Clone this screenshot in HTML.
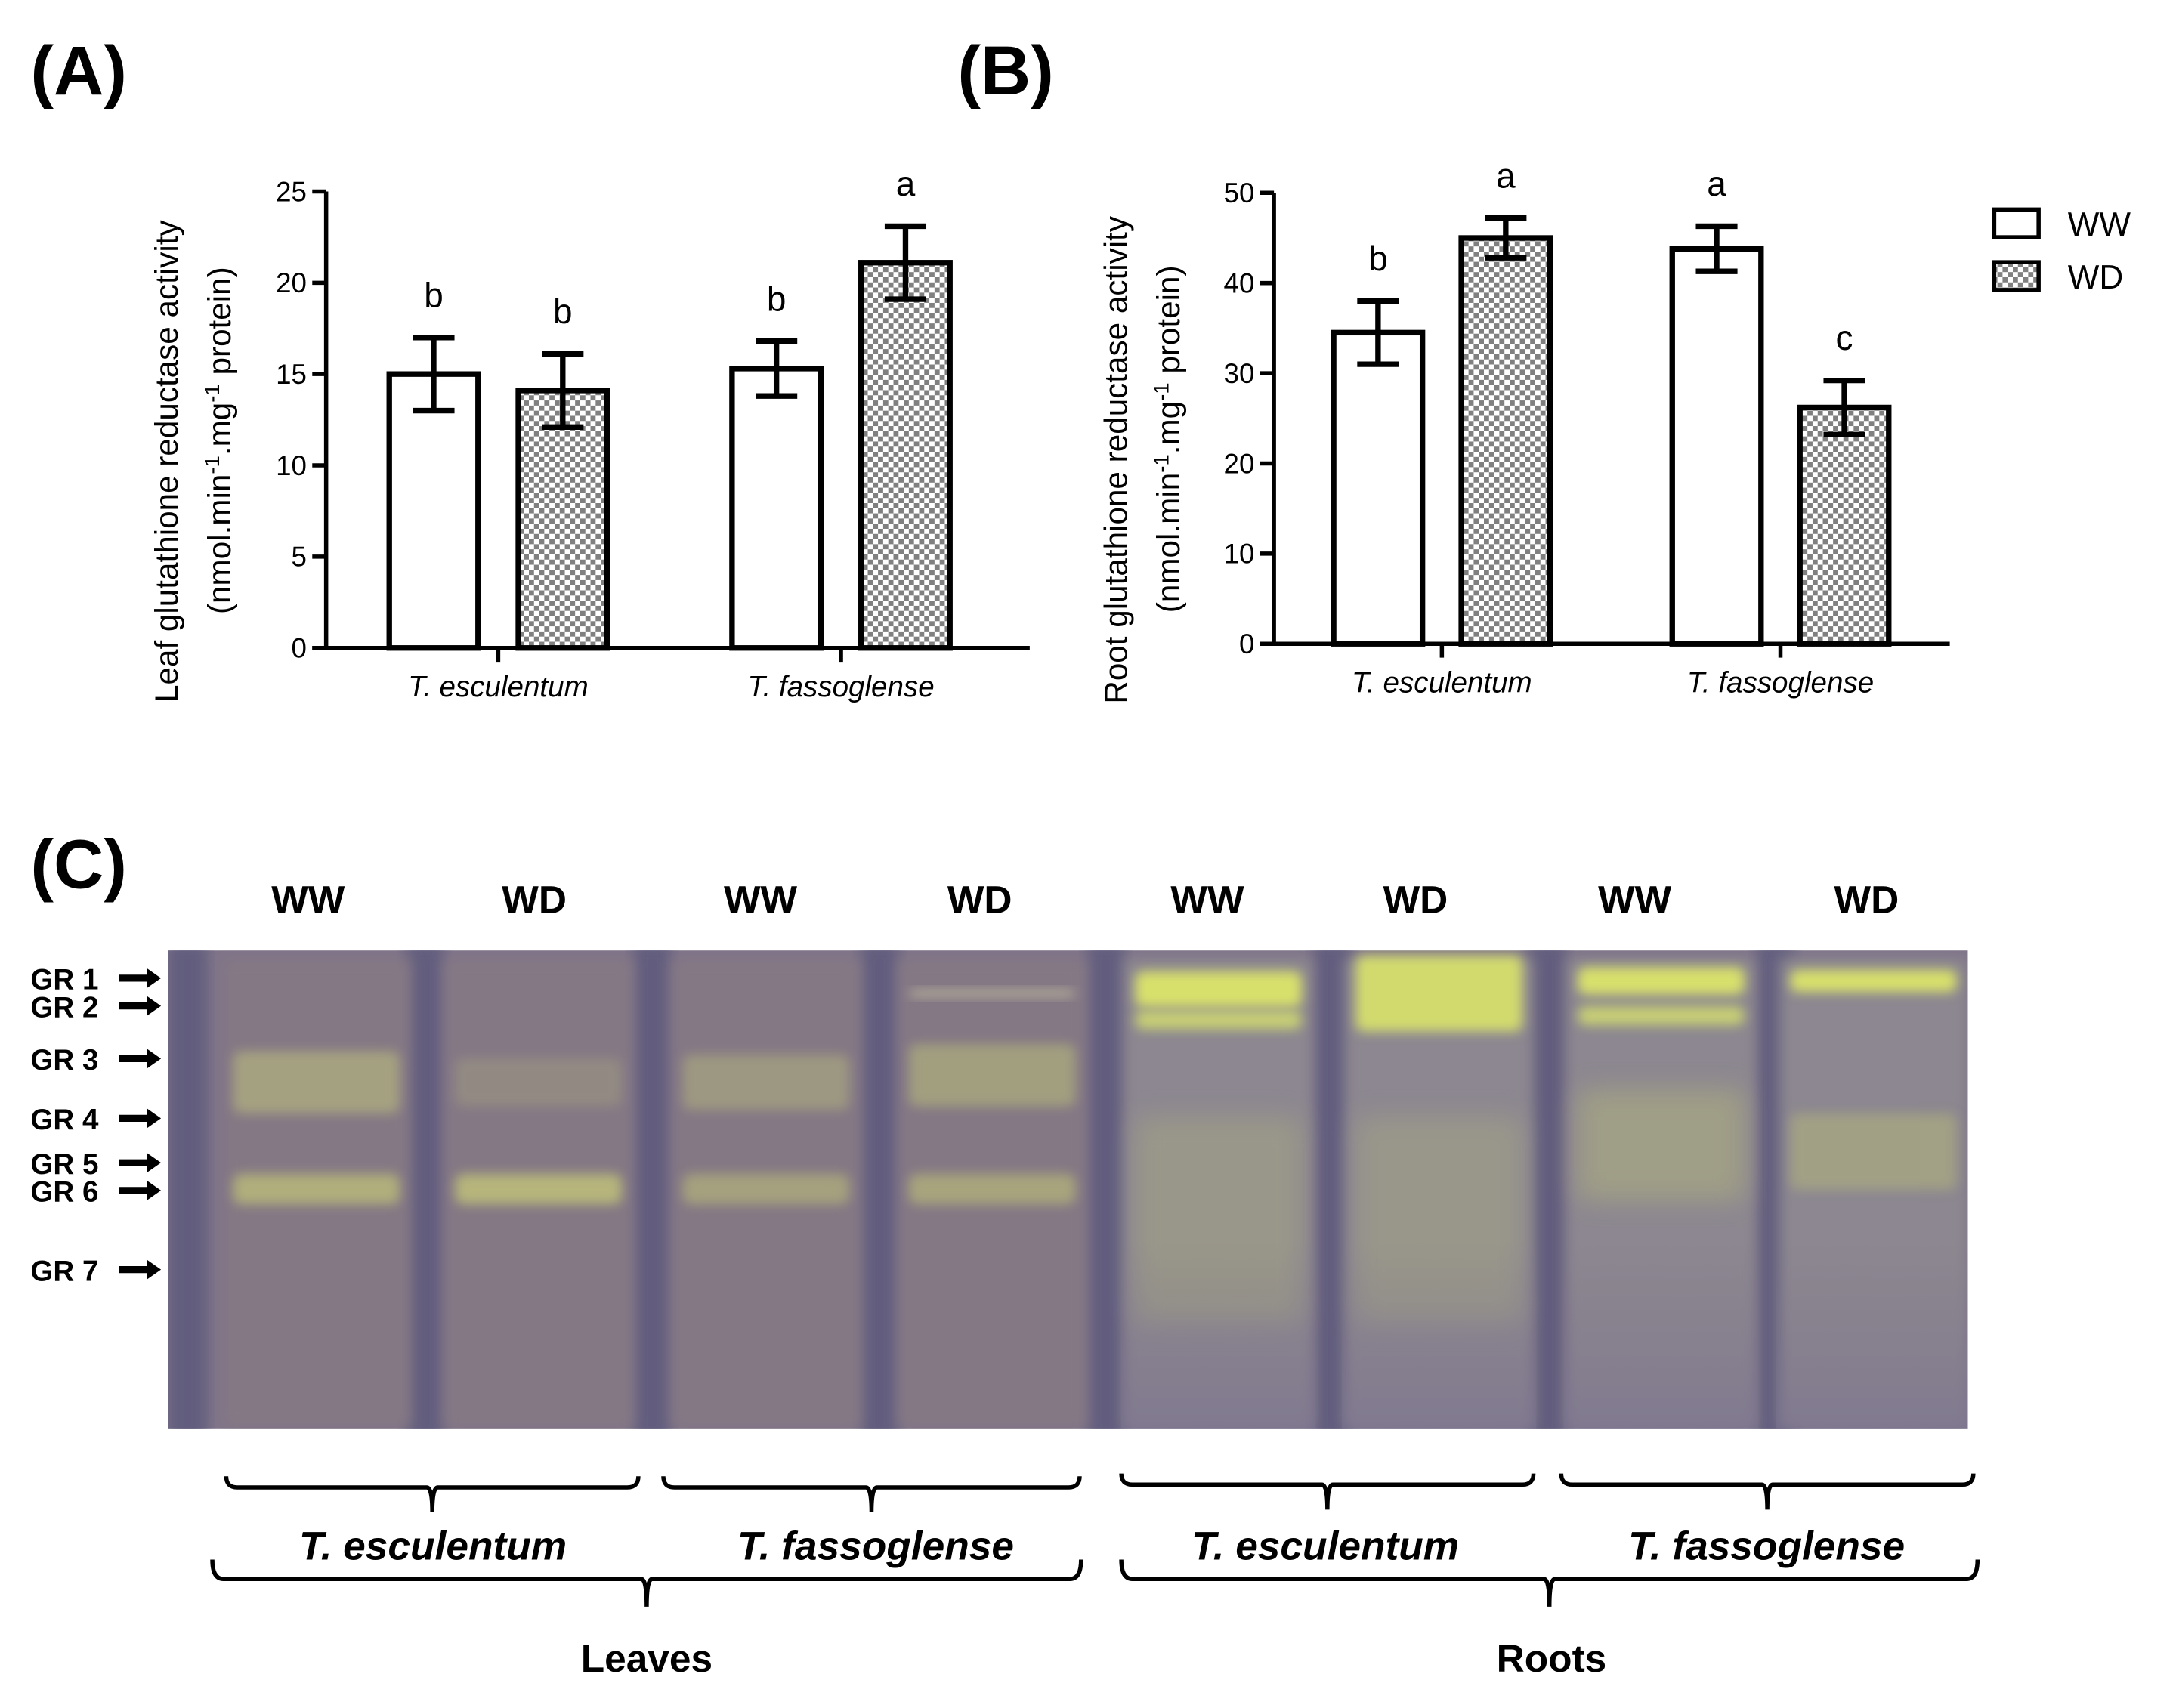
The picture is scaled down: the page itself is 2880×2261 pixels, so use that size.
<!DOCTYPE html>
<html><head><meta charset="utf-8"><style>
html,body{margin:0;padding:0;background:#fff;}
svg{display:block;}
text{font-family:"Liberation Sans",sans-serif;}
.b{font-weight:bold;}
</style></head><body>
<svg id="fig" width="2880" height="2261" viewBox="0 0 1568 1231" xmlns="http://www.w3.org/2000/svg">
<defs>
<pattern id="chk" width="7.4" height="7.4" patternUnits="userSpaceOnUse">
<rect width="7.4" height="7.4" fill="#fff"/>
<rect width="3.7" height="3.7" fill="#808080"/>
<rect x="3.7" y="3.7" width="3.7" height="3.7" fill="#808080"/>
</pattern>
<filter id="blur4" x="-20%" y="-20%" width="140%" height="140%"><feGaussianBlur stdDeviation="5"/></filter>
<filter id="blur8" x="-30%" y="-50%" width="160%" height="200%"><feGaussianBlur stdDeviation="9"/></filter>
<filter id="blur2" x="-20%" y="-100%" width="140%" height="300%"><feGaussianBlur stdDeviation="4"/></filter>
<linearGradient id="fadeRoot" x1="0" y1="0" x2="0" y2="1">
<stop offset="0" stop-color="#7e7389" stop-opacity="0"/>
<stop offset="0.6" stop-color="#7e7389" stop-opacity="0"/>
<stop offset="1" stop-color="#7a7290" stop-opacity="0.6"/>
</linearGradient>
<clipPath id="gelclip"><rect x="121" y="685" width="1297" height="345"/></clipPath>
</defs>
<text x="22" y="68" font-size="50" class="b">(A)</text>
<text x="690" y="68" font-size="50" class="b">(B)</text>
<text x="22" y="640" font-size="50" class="b">(C)</text>
<g id="chartA"></g>
<g id="chartB"></g>
<g>
<rect x="1437" y="151" width="32" height="20" fill="#fff" stroke="#000" stroke-width="3"/>
<text x="1490" y="170" font-size="24">WW</text>
<rect x="1437" y="189" width="32" height="20" fill="url(#chk)" stroke="#000" stroke-width="3"/>
<text x="1490" y="208" font-size="24">WD</text>
</g>
<g id="gel"></g>
<g id="gelLabels"></g>
</svg>
<script>
const NS="http://www.w3.org/2000/svg";
function mk(tag,attrs,parent,txt){const e=document.createElementNS(NS,tag);for(const k in attrs)e.setAttribute(k,attrs[k]);if(txt!==undefined)e.textContent=txt;parent.appendChild(e);return e;}

// ---- Chart data ----
const categories=["T. esculentum","T. fassoglense"];
const seriesNames=["WW","WD"];
const leafMeans=[[15.0,14.1],[15.3,21.1]];
const leafErr=[[2.0,2.0],[1.5,2.0]];
const leafLetters=[["b","b"],["b","a"]];
const leafTicks=[0,5,10,15,20,25];
const rootMeans=[[34.5,45.0],[43.8,26.2]];
const rootErr=[[3.5,2.2],[2.5,3.0]];
const rootLetters=[["b","a"],["a","c"]];
const rootTicks=[0,10,20,30,40,50];

function drawChart(g,cfg){
  const {x0,x1,y0,yTop,ymax,means,errs,letters,ticks,groupC,title1,barW,gap}=cfg;
  const y=v=>y0-(v/ymax)*(y0-yTop);
  const ax=mk('line',{x1:x0,y1:yTop,x2:x0,y2:y0,stroke:'#000','stroke-width':3},g);
  
  
  const xa=mk('line',{x1:x0-10,y1:y0,x2:x1,y2:y0,stroke:'#000','stroke-width':3},g);
  
  
  ticks.forEach(t=>{
    const tl=mk('line',{x1:x0-10,y1:y(t),x2:x0,y2:y(t),stroke:'#000','stroke-width':3},g);
    
    
    const tt=mk('text',{x:x0-14,y:y(t)+7,'font-size':20,'text-anchor':'end'},g,String(t));
    
    
  });
  categories.forEach((c,i)=>{
    const cx=groupC[i];
    const gt=mk('line',{x1:cx,y1:y0,x2:cx,y2:y0+10,stroke:'#000','stroke-width':3},g);
    
    
    const lt=mk('text',{x:cx,y:y0+35,'font-size':21,'font-style':'italic','text-anchor':'middle'},g,c);
    
    
    seriesNames.forEach((s,j)=>{
      const bx=j===0?cx-gap/2-barW:cx+gap/2;
      const v=means[i][j],e=errs[i][j];
      const r=mk('rect',{x:bx,y:y(v),width:barW,height:y0-y(v),fill:j===0?'#fff':'url(#chk)',stroke:'#000','stroke-width':4},g);
      
      
      const mx=bx+barW/2;
      const eb=mk('path',{d:`M${mx-15},${y(v+e)}H${mx+15}M${mx},${y(v+e)}V${y(v-e)}M${mx-15},${y(v-e)}H${mx+15}`,stroke:'#000','stroke-width':4,fill:'none'},g);
      
      
      const lt2=mk('text',{x:mx,y:y(v+e)-22,'font-size':25,'text-anchor':'middle'},g,letters[i][j]);
      
      
    });
  });
  const tx=cfg.titleX, ty=(yTop+y0)/2+30;
  const t1=mk('text',{x:0,y:0,'font-size':23,'text-anchor':'middle',transform:`translate(${tx},${ty}) rotate(-90)`},g,title1);
  
  
  const t2=mk('text',{x:0,y:0,'font-size':23,'text-anchor':'middle',transform:`translate(${tx+38},${ty-15}) rotate(-90)`},g);
  
  
  t2.innerHTML='(nmol.min<tspan dy="-8" font-size="15">-1</tspan><tspan dy="8">.mg</tspan><tspan dy="-8" font-size="15">-1</tspan><tspan dy="8"> protein)</tspan>';
}
drawChart(document.getElementById('chartA'),{x0:235,x1:742,y0:467,yTop:138,ymax:25,means:leafMeans,errs:leafErr,letters:leafLetters,ticks:leafTicks,groupC:[359,606],title1:'Leaf glutathione reductase activity',barW:64,gap:29,titleX:128});
drawChart(document.getElementById('chartB'),{x0:918,x1:1405,y0:464,yTop:139,ymax:50,means:rootMeans,errs:rootErr,letters:rootLetters,ticks:rootTicks,groupC:[1039,1283],title1:'Root glutathione reductase activity',barW:64,gap:28,titleX:812});

// ---- Gel ----
const gel=document.getElementById('gel');
const gc=mk('g',{'clip-path':'url(#gelclip)'},gel);
mk('rect',{x:121,y:685,width:1297,height:345,fill:'#7e7389'},gc);
const laneC=[228,388,552,715,878,1037,1197,1350];
const laneCond=["WW","WD","WW","WD","WW","WD","WW","WD"];
const sepX=[135,306,470,634,797,960,1115,1279];
sepX.forEach(x=>{const s=mk('rect',{x:x-14,y:680,width:28,height:360,fill:'#625d7e',filter:'url(#blur4)'},gc);});
laneC.forEach((c,i)=>{
  const root=i>=4;
  const l=mk('rect',{x:c-68,y:690,width:136,height:340,fill:root?'#8c8790':'#847884',filter:'url(#blur4)'},gc);
  
  
});
const bands=[[0,780,45,'#adac80',0.8],[1,780,35,'#9f9a82',0.55],[2,780,40,'#a8a680',0.7],[3,775,45,'#acac7e',0.75],
[0,857,22,'#b8b87a',0.85],[1,857,22,'#bcbc7a',0.9],[2,857,22,'#b0ae7c',0.75],[3,857,22,'#b4b37a',0.75],
[3,716,4,'#e0e0b0',0.7],
[4,713,26,'#d8e06c',1],[4,735,14,'#cdd672',0.9],[5,716,55,'#d2da6e',1],[6,707,20,'#d8e06c',1],[6,732,14,'#cdd672',0.9],[7,707,16,'#d8e06c',1],
[4,880,150,'#a3a385',0.6],[5,880,150,'#a2a287',0.6],[6,825,80,'#a8a882',0.7],[7,830,55,'#abab80',0.7]];
bands.forEach(b=>{
  const c=laneC[b[0]];
  const r=mk('rect',{x:c-60,y:b[1]-b[2]/2,width:120,height:b[2],fill:b[3],opacity:b[4],rx:6,filter:b[2]>60?'url(#blur8)':'url(#blur2)'},gc);
  
  
});
laneC.slice(4).forEach(c=>{mk('rect',{x:c-70,y:690,width:140,height:340,fill:'url(#fadeRoot)'},gc);});

// ---- Gel labels ----
const gl=document.getElementById('gelLabels');
laneC.forEach((c,i)=>{
  const t=mk('text',{x:[222,385,548,706,870,1020,1178,1345][i],y:658,'font-size':28,'text-anchor':'middle',class:'b'},gl,laneCond[i]);
  
  
});
const grNames=["GR 1","GR 2","GR 3","GR 4","GR 5","GR 6","GR 7"];
const grY=[705,725,763,806,838,858,915];
grNames.forEach((n,i)=>{
  const t=mk('text',{x:22,y:grY[i]+8,'font-size':21,class:'b'},gl,n);
  
  
  const a=mk('path',{d:`M86,${grY[i]-2.5}H106V${grY[i]-7}L116,${grY[i]}L106,${grY[i]+7}V${grY[i]+2.5}H86Z`,fill:'#000'},gl);
  
  
});
function brace(x1,x2,y,drop,depth,name){
  const c=(x1+x2)/2;
  const p=mk('path',{d:`M${x1},${y-depth}Q${x1},${y} ${x1+8},${y}H${c-4}Q${c},${y} ${c},${y+drop}Q${c},${y} ${c+4},${y}H${x2-8}Q${x2},${y} ${x2},${y-depth}`,stroke:'#000','stroke-width':3,fill:'none'},gl);
  
  
}
brace(163,460,1072,18,8,'species-bracket');
brace(478,778,1072,18,8,'species-bracket');
brace(808,1105,1070,18,8,'species-bracket');
brace(1125,1422,1070,18,8,'species-bracket');
brace(153,779,1138,20,14,'tissue-bracket');
brace(808,1425,1138,20,14,'tissue-bracket');
[["T. esculentum",312],["T. fassoglense",631],["T. esculentum",955],["T. fassoglense",1273]].forEach(s=>{
  const t=mk('text',{x:s[1],y:1124,'font-size':29,'font-style':'italic','text-anchor':'middle',class:'b'},gl,s[0]);
  
  
});
[["Leaves",466],["Roots",1118]].forEach(s=>{
  const t=mk('text',{x:s[1],y:1205,'font-size':28,'text-anchor':'middle',class:'b'},gl,s[0]);
  
  
});
</script>
</body></html>
